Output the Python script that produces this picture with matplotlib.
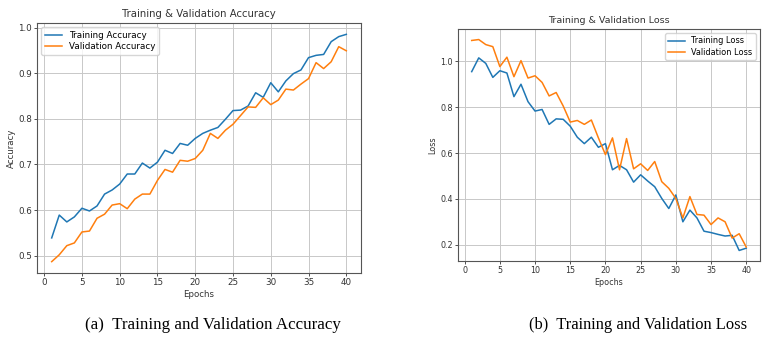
import numpy as np
import matplotlib
matplotlib.use("Agg")
import matplotlib.pyplot as plt

epochs = np.arange(1, 41)

train_acc = [0.539, 0.589, 0.574, 0.585, 0.604, 0.598, 0.609, 0.635, 0.644, 0.657,
             0.679, 0.679, 0.703, 0.692, 0.705, 0.731, 0.724, 0.746, 0.742, 0.757,
             0.768, 0.775, 0.781, 0.799, 0.818, 0.819, 0.828, 0.857, 0.847, 0.879,
             0.859, 0.883, 0.899, 0.907, 0.934, 0.939, 0.941, 0.969, 0.980, 0.985]
val_acc = [0.487, 0.502, 0.522, 0.528, 0.552, 0.554, 0.582, 0.591, 0.611, 0.614,
           0.603, 0.624, 0.635, 0.635, 0.665, 0.689, 0.683, 0.709, 0.707, 0.713,
           0.731, 0.768, 0.757, 0.775, 0.788, 0.807, 0.826, 0.825, 0.846, 0.831,
           0.841, 0.865, 0.863, 0.876, 0.888, 0.923, 0.910, 0.925, 0.958, 0.949]

train_loss = [0.955, 1.015, 0.991, 0.930, 0.959, 0.949, 0.846, 0.900, 0.824, 0.783,
              0.790, 0.725, 0.749, 0.747, 0.717, 0.669, 0.641, 0.669, 0.625, 0.641,
              0.527, 0.546, 0.527, 0.473, 0.505, 0.478, 0.453, 0.402, 0.358, 0.417,
              0.300, 0.351, 0.317, 0.259, 0.253, 0.245, 0.238, 0.241, 0.175, 0.185]
val_loss = [1.091, 1.095, 1.073, 1.064, 0.977, 1.018, 0.933, 1.003, 0.927, 0.937,
            0.908, 0.849, 0.864, 0.805, 0.735, 0.742, 0.725, 0.744, 0.666, 0.593,
            0.666, 0.527, 0.663, 0.531, 0.553, 0.524, 0.563, 0.475, 0.446, 0.402,
            0.317, 0.410, 0.332, 0.329, 0.288, 0.317, 0.300, 0.229, 0.248, 0.190]

captions = ["(a)  Training and Validation Accuracy", "(b)  Training and Validation Loss"]

fig = plt.figure(figsize=(7.67, 3.38), dpi=100)
ax1 = fig.add_axes([0.0482, 0.1923, 0.4225, 0.7397])
ax2 = fig.add_axes([0.5971, 0.2278, 0.3937, 0.6864])


def style(ax, fs):
    ax.grid(True, color="#c8c8c8", linewidth=0.7)
    ax.tick_params(labelsize=fs, length=2, width=0.6, pad=1.5, colors="#333333")
    for s in ax.spines.values():
        s.set_color("#555555")
        s.set_linewidth(0.8)


ax1.plot(epochs, train_acc, color="#1f77b4", lw=1.1, label="Training Accuracy")
ax1.plot(epochs, val_acc, color="#ff7f0e", lw=1.1, label="Validation Accuracy")
ax1.set_title("Training & Validation Accuracy", fontsize=7.3, pad=4, color="#333333")
ax1.set_xlabel("Epochs", fontsize=6.2, labelpad=2, color="#333333")
ax1.set_ylabel("Accuracy", fontsize=6.2, labelpad=2, color="#333333")
ax1.set_xticks(range(0, 41, 5))
ax1.legend(loc="upper left", fontsize=6.3, handlelength=2, borderpad=0.4, labelspacing=0.3)
style(ax1, 6.3)

ax2.plot(epochs, train_loss, color="#1f77b4", lw=1.1, label="Training Loss")
ax2.plot(epochs, val_loss, color="#ff7f0e", lw=1.1, label="Validation Loss")
ax2.set_title("Training & Validation Loss", fontsize=6.8, pad=4, color="#333333")
ax2.set_xlabel("Epochs", fontsize=5.8, labelpad=2, color="#333333")
ax2.set_ylabel("Loss", fontsize=5.8, labelpad=2, color="#333333")
ax2.set_xticks(range(0, 41, 5))
ax2.set_yticks([0.2, 0.4, 0.6, 0.8, 1.0])
ax2.legend(loc="upper right", fontsize=5.9, handlelength=2, borderpad=0.4, labelspacing=0.3)
style(ax2, 5.8)

fig.text(0.278, 0.038, captions[0], ha="center", va="center", fontsize=12.2,
         family="Liberation Serif")
fig.text(0.832, 0.038, captions[1], ha="center", va="center", fontsize=11.9,
         family="Liberation Serif")

fig.savefig("out.png", dpi=100)
